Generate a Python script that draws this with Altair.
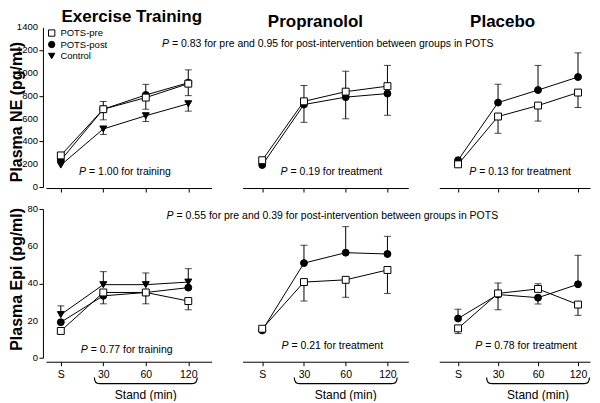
import json
import altair as alt
import pandas as pd

FONT = "Liberation Sans"

stages = ["S", "30", "60", "120"]
stage_pos = [0, 1, 2, 3]
series_names = ["POTS-pre", "POTS-post", "Control"]
series_shapes = ["square", "circle", "triangle-down"]
series_fills = ["white", "black", "black"]
panel_titles = ["Exercise Training", "Propranolol", "Placebo"]
y_titles = ["Plasma NE (pg/ml)", "Plasma Epi (pg/ml)"]
x_title = "Stand (min)"

# ---- Plasma NE (pg/ml) ----
ne_ex_pre = [277, 682, 784, 906]
ne_ex_post = [235, 682, 807, 914]
ne_ex_ctrl = [192, 509, 625, 730]
ne_pr_pre = [235, 751, 836, 884]
ne_pr_post = [193, 723, 788, 819]
ne_pl_pre = [199, 618, 714, 828]
ne_pl_post = [235, 740, 850, 964]

# error-bar ends (None = no bar drawn on that side)
NONE4 = [None, None, None, None]
ne_ex_pre_hi = NONE4
ne_ex_pre_lo = [None, 589, 682, 801]
ne_ex_post_hi = [None, 750, 900, 1027]
ne_ex_post_lo = NONE4
ne_ex_ctrl_hi = NONE4
ne_ex_ctrl_lo = [None, 461, 574, 665]
ne_pr_pre_hi = [None, 890, 1015, 1066]
ne_pr_pre_lo = NONE4
ne_pr_post_hi = NONE4
ne_pr_post_lo = [None, 567, 598, 629]
ne_pl_pre_hi = NONE4
ne_pl_pre_lo = [None, 471, 578, 697]
ne_pl_post_hi = [None, 901, 1066, 1176]
ne_pl_post_lo = NONE4

# ---- Plasma Epi (pg/ml) ----
epi_ex_pre = [14.4, 35.1, 35.1, 30.5]
epi_ex_post = [19.1, 33.3, 35.1, 37.7]
epi_ex_ctrl = [23.2, 39.3, 39.3, 40.7]
epi_pr_pre = [15.6, 40.7, 41.9, 47.2]
epi_pr_post = [14.7, 50.9, 56.5, 55.8]
epi_pl_pre = [15.8, 34.6, 37.0, 28.6]
epi_pl_post = [21.1, 34.0, 32.3, 39.5]

epi_ex_pre_hi = NONE4
epi_ex_pre_lo = [None, None, None, 25.8]
epi_ex_post_hi = NONE4
epi_ex_post_lo = [None, 29.0, 29.0, None]
epi_ex_ctrl_hi = [27.9, 46.3, 45.6, 47.9]
epi_ex_ctrl_lo = NONE4
epi_pr_pre_hi = NONE4
epi_pr_pre_lo = [None, 30.5, 32.5, 34.6]
epi_pr_post_hi = [None, 60.5, 70.5, 65.3]
epi_pr_post_lo = NONE4
epi_pl_pre_hi = [None, 40.2, 39.8, None]
epi_pl_pre_lo = [13.0, None, None, 22.8]
epi_pl_post_hi = [26.1, None, None, 55.1]
epi_pl_post_lo = [None, 25.8, 28.9, None]

ne_ticks = [0, 200, 400, 600, 800, 1000, 1200, 1400]
epi_ticks = [0, 20, 40, 60, 80]

ne_between = "= 0.83 for pre and 0.95 for post-intervention between groups in POTS"
epi_between = "= 0.55 for pre and 0.39 for post-intervention between groups in POTS"
ne_notes = ["= 1.00 for training", "= 0.19 for treatment", "= 0.13 for treatment"]
epi_notes = ["= 0.77 for training", "= 0.21 for treatment", "= 0.78 for treatment"]

label_expr = "%s[datum.value]" % json.dumps(stages)


def p_text(x, y, rest, xs, ys):
    """Italic P followed by regular text, left aligned at data point (x, y)."""
    p = alt.Chart(pd.DataFrame({"t": ["P"]})).mark_text(
        align="left", baseline="middle", fontStyle="italic", font=FONT,
        fontSize=10.5, color="black").encode(
        x=alt.datum(x, scale=xs), y=alt.datum(y, scale=ys), text="t:N")
    r = alt.Chart(pd.DataFrame({"t": [rest]})).mark_text(
        align="left", baseline="middle", dx=10, font=FONT,
        fontSize=10.5, color="black").encode(
        x=alt.datum(x), y=alt.datum(y), text="t:N")
    return [p, r]


def make_panel(series, xdom, ydom, yticks, ylab, ylab_dy, width, height,
               title, title_dx, bottom, notes, legend):
    rows, errs = [], []
    for name, vals, hi, lo in series:
        for i, (p, v) in enumerate(zip(stage_pos, vals)):
            rows.append({"x": p, "v": v, "series": name})
            for end in (hi[i], lo[i]):
                if end is not None:
                    errs.append({"x": p, "v": v, "end": end})
    df = pd.DataFrame(rows)
    de = pd.DataFrame(errs)

    xs = alt.Scale(domain=xdom, nice=False, zero=False)
    ys = alt.Scale(domain=ydom, nice=False, zero=False)
    xaxis = alt.Axis(values=stage_pos, labelExpr=label_expr, labels=bottom,
                     title=None, grid=False, tickSize=4,
                     offset=4 if bottom else 1, labelPadding=4)
    yaxis = alt.Axis(values=yticks, title=None, grid=False, labels=False,
                     tickSize=4, offset=3) if ylab else None

    X = alt.X("x:Q", scale=xs, axis=xaxis)
    Y = alt.Y("v:Q", scale=ys, axis=yaxis)
    base = alt.Chart(df)
    line = base.mark_line(color="black", strokeWidth=1).encode(
        x=X, y=Y, detail="series:N")
    rule = alt.Chart(de).mark_rule(color="black", strokeWidth=1).encode(
        x=X, y=Y, y2="end:Q")
    cap = alt.Chart(de).mark_tick(color="black", orient="horizontal",
                                  size=7, thickness=1).encode(
        x=X, y=alt.Y("end:Q", scale=ys, axis=yaxis))
    leg = None
    if legend:
        leg = alt.Legend(title=None, orient="top-left", offset=1, padding=0,
                         labelFont=FONT, labelFontSize=9.5, symbolSize=40,
                         symbolStrokeColor="black", symbolStrokeWidth=1,
                         rowPadding=0.5, labelOffset=4, symbolOffset=0)
    pts = base.mark_point(filled=False, size=48, strokeWidth=1,
                          opacity=1).encode(
        x=X, y=Y,
        shape=alt.Shape("series:N", scale=alt.Scale(domain=series_names,
                                                    range=series_shapes),
                        legend=leg),
        fill=alt.Fill("series:N", scale=alt.Scale(domain=series_names,
                                                  range=series_fills),
                      legend=leg),
        stroke=alt.Stroke("series:N",
                          scale=alt.Scale(domain=series_names,
                                          range=["black"] * len(series_names)),
                          legend=leg))
    layers = [line, rule, cap, pts]
    for (nx, ny, txt) in notes:
        layers += p_text(nx, ny, txt, xs, ys)
    if ylab:
        tick_labels = alt.Chart(pd.DataFrame({"t": yticks})).mark_text(
            align="right", baseline="middle", font=FONT, fontSize=9.5,
            color="black").encode(
            y=alt.Y("t:Q", scale=ys, axis=yaxis), x=alt.value(-8),
            text=alt.Text("t:Q", format="d"))
        ytitle = alt.Chart(pd.DataFrame({"t": [ylab]})).mark_text(
            angle=270, font=FONT, fontSize=16, fontWeight="bold",
            baseline="middle", align="center", color="black").encode(
            x=alt.value(-29), y=alt.value(height / 2 + ylab_dy), text="t:N")
        layers += [tick_labels, ytitle]
    if bottom:
        stand_mid = sum(stage_pos[1:]) / len(stage_pos[1:])
        brace = alt.Chart(pd.DataFrame({"k": [0]})).mark_point(
            shape="M -1 -0.12 Q -1 0 -0.9 0 L 0.9 0 Q 1 0 1 -0.12",
            size=10609, filled=False, stroke="black", strokeWidth=1.2,
            opacity=1).encode(x=alt.datum(stand_mid, scale=xs),
                              y=alt.value(height + 26))
        stand = alt.Chart(pd.DataFrame({"t": [x_title]})).mark_text(
            font=FONT, fontSize=12, baseline="middle", color="black").encode(
            x=alt.datum(stand_mid), y=alt.value(height + 37), text="t:N")
        layers += [brace, stand]
    ch = alt.layer(*layers).properties(width=width, height=height)
    if title:
        ch = ch.properties(title=alt.TitleParams(
            title, font=FONT, fontSize=17, fontWeight="bold", anchor="middle",
            frame="group", dx=title_dx, offset=-4, color="black"))
    return ch


def S(name, vals, hi, lo):
    return (name, vals, hi, lo)


W = [166, 166, 151]
XD = [[-0.35, 3.55], [-0.47, 3.5], [-0.47, 3.3]]
HT, HB = 160, 149

panels = [
    make_panel([S("Control", ne_ex_ctrl, ne_ex_ctrl_hi, ne_ex_ctrl_lo),
                S("POTS-post", ne_ex_post, ne_ex_post_hi, ne_ex_post_lo),
                S("POTS-pre", ne_ex_pre, ne_ex_pre_hi, ne_ex_pre_lo)],
               XD[0], [0, 1400], ne_ticks, y_titles[0], 5, W[0], HT,
               panel_titles[0], 3, False,
               [(0.43, 133, ne_notes[0]), (2.38, 1253, ne_between)], True),
    make_panel([S("POTS-post", ne_pr_post, ne_pr_post_hi, ne_pr_post_lo),
                S("POTS-pre", ne_pr_pre, ne_pr_pre_hi, ne_pr_pre_lo)],
               XD[1], [0, 1400], ne_ticks, None, 0, W[1], HT, panel_titles[1],
               -10, False, [(0.44, 133, ne_notes[1])], False),
    make_panel([S("POTS-post", ne_pl_post, ne_pl_post_hi, ne_pl_post_lo),
                S("POTS-pre", ne_pl_pre, ne_pl_pre_hi, ne_pl_pre_lo)],
               XD[2], [0, 1400], ne_ticks, None, 0, W[2], HT, panel_titles[2],
               -12, False, [(0.28, 133, ne_notes[2])], False),
    make_panel([S("Control", epi_ex_ctrl, epi_ex_ctrl_hi, epi_ex_ctrl_lo),
                S("POTS-post", epi_ex_post, epi_ex_post_hi, epi_ex_post_lo),
                S("POTS-pre", epi_ex_pre, epi_ex_pre_hi, epi_ex_pre_lo)],
               XD[0], [0, 80], epi_ticks, y_titles[1], -4, W[0], HB,
               None, 0, True,
               [(0.47, 3.9, epi_notes[0]), (2.49, 76, epi_between)], False),
    make_panel([S("POTS-post", epi_pr_post, epi_pr_post_hi, epi_pr_post_lo),
                S("POTS-pre", epi_pr_pre, epi_pr_pre_hi, epi_pr_pre_lo)],
               XD[1], [0, 80], epi_ticks, None, 0, W[1], HB, None, 0, True,
               [(0.46, 6.5, epi_notes[1])], False),
    make_panel([S("POTS-post", epi_pl_post, epi_pl_post_hi, epi_pl_post_lo),
                S("POTS-pre", epi_pl_pre, epi_pl_pre_hi, epi_pl_pre_lo)],
               XD[2], [0, 80], epi_ticks, None, 0, W[2], HB, None, 0, True,
               [(0.43, 6.5, epi_notes[2])], False),
]

chart = alt.concat(
    *panels, columns=3, spacing={"row": 22, "column": 31}, bounds="flush"
).resolve_scale(y="independent", x="independent").resolve_legend(
    shape="independent", fill="independent", stroke="independent"
).properties(padding={"left": 0, "top": 0, "right": 0, "bottom": 0}).configure(
    font=FONT
).configure_view(stroke=None).configure_axis(
    labelFont=FONT, labelFontSize=10.5, labelColor="black",
    domainColor="black", tickColor="black", domainWidth=1, tickWidth=1,
)

chart.save("out.html", embed_options={"renderer": "svg", "actions": False})
